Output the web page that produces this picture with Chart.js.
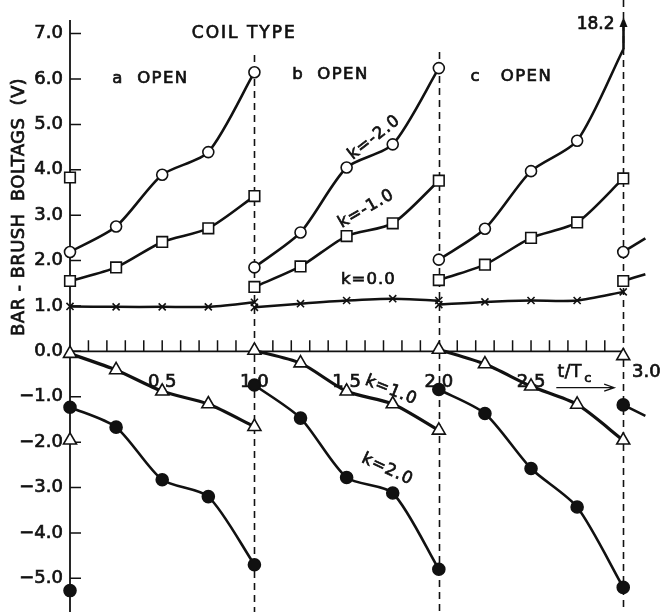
<!DOCTYPE html>
<html>
<head>
<meta charset="utf-8">
<script src="https://cdn.jsdelivr.net/npm/chart.js@4.4.1/dist/chart.umd.min.js"></script>
<style>
  body { margin: 0; background: #fff; }
</style>
</head>
<body>
<canvas id="chart" width="660" height="612"></canvas>
<script>
// t/Tc positions of the readings in each coil period (a, b, c, and the start of the next one)
const periodT = [
  [0, 0.25, 0.5, 0.75, 1.0],
  [1.0, 1.25, 1.5, 1.75, 2.0],
  [2.0, 2.25, 2.5, 2.75, 3.0],
  [3.0, 3.12]
]

// bar-brush voltages (V), one list per period
const kMinus2 = [[2.19, 2.75, 3.89, 4.39, 6.15], [1.85, 2.62, 4.05, 4.56, 6.24], [2.02, 2.70, 3.97, 4.64, 6.65], [2.19, 2.49]]
const kMinus1 = [[1.55, 1.85, 2.41, 2.71, 3.42], [1.42, 1.87, 2.54, 2.82, 3.76], [1.57, 1.91, 2.50, 2.84, 3.81], [1.55, 1.70]]
const kZero   = [[0.99, 0.98, 0.98, 0.98, 1.08], [0.97, 1.05, 1.12, 1.16, 1.12], [1.03, 1.09, 1.12, 1.12, 1.31], []]
const kPlus1  = [[-0.05, -0.41, -0.88, -1.16, -1.66], [0.02, -0.26, -0.88, -1.16, -1.74], [0.04, -0.28, -0.77, -1.17, -1.96], [-0.10]]
const kPlus2  = [[-1.23, -1.67, -2.83, -3.20, -4.70], [-0.74, -1.47, -2.78, -3.12, -4.80], [-0.84, -1.37, -2.58, -3.43, -5.20], [-1.18, -1.42]]

// end of the previous cycle, shown at t = 0
const prevCycleEnd = [null, 3.83, null, -1.96, -5.27]

// k = -2.0 leaves the scale at t/Tc = 3.0
const offScaleValue = "18.2"

const xTickLabels = [0.5, 1.0, 1.5, 2.0, 2.5]
const yTickLabels = [-5, -4, -3, -2, -1, 0, 1, 2, 3, 4, 5, 6, 7]
const coilSwitch = [1.0, 2.0, 3.0]

const ink = "#111"
const font = "'DejaVu Sans', sans-serif"
const inkStroke = 0.7

const series = [
  { label: "k=-2.0", values: kMinus2, style: "circle", radius: 5.5, filled: false, width: 2.6 },
  { label: "k=-1.0", values: kMinus1, style: "rect", radius: 7.5, filled: false, width: 2.6 },
  { label: "k=0.0", values: kZero, style: "crossRot", radius: 5, filled: false, width: 2.5 },
  { label: "k=1.0", values: kPlus1, style: "triangle", radius: 7.5, filled: false, width: 3.2 },
  { label: "k=2.0", values: kPlus2, style: "circle", radius: 6, filled: true, width: 2.6 }
]

const datasets = []
series.forEach((s, si) => {
  s.values.forEach((vals, p) => {
    if (!vals.length) return
    const data = vals.map((v, i) => ({ x: periodT[p][i], y: v }))
    const radii = data.map(d => d.x > 3.05 ? 0 : s.radius)
    if (si === 0 && p === 2) radii[radii.length - 1] = 0
    datasets.push({
      data,
      showLine: true,
      clip: false,
      borderColor: ink,
      borderWidth: s.width,
      tension: 0.25,
      pointStyle: s.style,
      pointRadius: radii,
      pointBackgroundColor: s.filled ? ink : "#fff",
      pointBorderColor: ink,
      pointBorderWidth: 1.6
    })
  })
  if (prevCycleEnd[si] !== null) {
    datasets.push({
      data: [{ x: 0, y: prevCycleEnd[si] }],
      showLine: false,
      clip: false,
      pointStyle: s.style,
      pointRadius: s.radius,
      pointBackgroundColor: s.filled ? ink : "#fff",
      pointBorderColor: ink,
      pointBorderWidth: 1.6
    })
  }
})

function fmt(v) {
  const t = Math.abs(v).toFixed(1)
  return v < 0 ? "\u2212" + t : t
}

function text(ctx, x, y, str, size, angle, align, spacing) {
  ctx.save()
  ctx.translate(x, y)
  ctx.rotate((angle || 0) * Math.PI / 180)
  ctx.font = size + "px " + font
  ctx.letterSpacing = (spacing || 0) + "px"
  ctx.textAlign = align || "center"
  ctx.textBaseline = "middle"
  ctx.lineWidth = inkStroke
  ctx.fillText(str, 0, 0)
  ctx.strokeText(str, 0, 0)
  ctx.restore()
}

const decor = {
  id: "decor",
  beforeDatasetsDraw(chart) {
    const { ctx, scales: { x, y }, chartArea } = chart
    ctx.save()
    ctx.strokeStyle = ink
    // dashed lines where the coil type changes
    ctx.lineWidth = 1.6
    ctx.setLineDash([7, 5])
    const tops = [55, 52, 0]
    coilSwitch.forEach((t, i) => {
      const px = Math.round(x.getPixelForValue(t)) + 0.5
      ctx.beginPath()
      ctx.moveTo(px, tops[i])
      ctx.lineTo(px, chart.height)
      ctx.stroke()
    })
    ctx.setLineDash([])
    // axes
    ctx.lineWidth = 1.8
    const x0 = x.getPixelForValue(0)
    const y0 = y.getPixelForValue(0)
    ctx.beginPath()
    ctx.moveTo(x0, chartArea.top)
    ctx.lineTo(x0, chart.height)
    ctx.moveTo(x0, y0)
    ctx.lineTo(x.getPixelForValue(3.0), y0)
    ctx.stroke()
    // x ticks every 0.1, pointing up
    ctx.lineWidth = 1.5
    ctx.beginPath()
    for (let i = 1; i < 30; i++) {
      if (i % 10 === 0) continue
      const px = x.getPixelForValue(i / 10)
      ctx.moveTo(px, y0)
      ctx.lineTo(px, y0 - 11)
    }
    // y ticks, pointing right
    yTickLabels.forEach(v => {
      const py = y.getPixelForValue(v)
      ctx.moveTo(x0, py)
      ctx.lineTo(x0 + 11, py)
    })
    ctx.stroke()
    ctx.restore()
  },
  afterDraw(chart) {
    const { ctx, scales: { x, y } } = chart
    const at = (tx, ty) => [x.getPixelForValue(tx), y.getPixelForValue(ty)]
    ctx.save()
    ctx.fillStyle = ink
    ctx.strokeStyle = ink

    // y axis title
    text(ctx, 19, 207, "BAR - BRUSH  BOLTAGS  (V)", 18, -90, "center", 0.4)

    let p = at(0.945, 6.99); text(ctx, p[0], p[1], "COIL TYPE", 17, 0, "center", 2)
    p = at(0.436, 6.0); text(ctx, p[0], p[1], "a  OPEN", 16.5, 0, "center", 1.4)
    p = at(1.412, 6.09); text(ctx, p[0], p[1], "b  OPEN", 16.5, 0, "center", 1.4)
    p = at(2.393, 6.04); text(ctx, p[0], p[1], "c   OPEN", 16.5, 0, "center", 1.4)

    p = at(1.65, 4.71); text(ctx, p[0], p[1], "k=-2.0", 16.5, -38, "center", 1)
    p = at(1.607, 3.14); text(ctx, p[0], p[1], "k=-1.0", 16.5, -30, "center", 1)
    p = at(1.618, 1.57); text(ctx, p[0], p[1], "k=0.0", 16.5, 0, "center", 1)
    p = at(1.742, -0.86); text(ctx, p[0], p[1], "k=1.0", 16.5, 22, "center", 1)
    p = at(1.721, -2.60); text(ctx, p[0], p[1], "k=2.0", 16.5, 25, "center", 1)

    // 3.0 tick label sits right of the dashed line
    p = at(3.125, -0.47); text(ctx, p[0], p[1], "3.0", 18, 0, "center", 0)

    // t/Tc with arrow
    p = at(2.71, -0.47); text(ctx, p[0], p[1], "t/T", 17, 0, "center", 0.5)
    text(ctx, p[0] + 18, p[1] + 6, "c", 13, 0, "center", 0)
    const a0 = at(2.637, -0.80), a1 = at(2.951, -0.80)
    ctx.lineWidth = 1.3
    ctx.beginPath()
    ctx.moveTo(a0[0], a0[1]); ctx.lineTo(a1[0], a1[1])
    ctx.moveTo(a1[0] - 10, a1[1] - 3.5); ctx.lineTo(a1[0], a1[1]); ctx.lineTo(a1[0] - 10, a1[1] + 3.5)
    ctx.stroke()

    // off-scale arrow for k=-2.0 at t/Tc = 3.0
    const top = kMinus2[2][4]
    const s0 = at(3.0, top)
    const tip = [Math.round(s0[0]) + 0.5, 17]
    ctx.lineWidth = 2.6
    ctx.beginPath()
    ctx.moveTo(tip[0], s0[1]); ctx.lineTo(tip[0], tip[1] + 8)
    ctx.stroke()
    ctx.beginPath()
    ctx.moveTo(tip[0], tip[1]); ctx.lineTo(tip[0] - 4, tip[1] + 10); ctx.lineTo(tip[0] + 4, tip[1] + 10)
    ctx.closePath(); ctx.fill()
    text(ctx, tip[0] - 9, 25, offScaleValue, 17, 0, "right", 0)

    ctx.restore()
  }
}

const tickFont = { family: font, size: 18 }

new Chart(document.getElementById("chart"), {
  type: "scatter",
  data: { datasets },
  options: {
    responsive: false,
    animation: false,
    layout: { padding: { top: 20, right: 9, bottom: 4, left: 0 } },
    plugins: { legend: { display: false }, tooltip: { enabled: false } },
    scales: {
      x: {
        type: "linear",
        position: { y: 0 },
        min: 0,
        max: 3.15,
        grid: { display: false, drawTicks: false },
        border: { display: false },
        ticks: {
          stepSize: 0.5,
          includeBounds: false,
          autoSkip: false,
          maxRotation: 0,
          padding: 20,
          color: ink,
          textStrokeColor: ink,
          textStrokeWidth: inkStroke,
          font: tickFont,
          callback: v => xTickLabels.some(t => Math.abs(t - v) < 1e-6) ? fmt(v) : ""
        }
      },
      y: {
        type: "linear",
        min: -5.35,
        max: 7.3,
        grid: { display: false, drawTicks: false },
        border: { display: false },
        afterFit: scale => { scale.width = 70 },
        ticks: {
          stepSize: 1,
          includeBounds: false,
          autoSkip: false,
          padding: 7,
          color: ink,
          textStrokeColor: ink,
          textStrokeWidth: inkStroke,
          font: tickFont,
          callback: v => yTickLabels.includes(v) ? fmt(v) : ""
        }
      }
    }
  },
  plugins: [decor]
})
</script>
</body>
</html>
